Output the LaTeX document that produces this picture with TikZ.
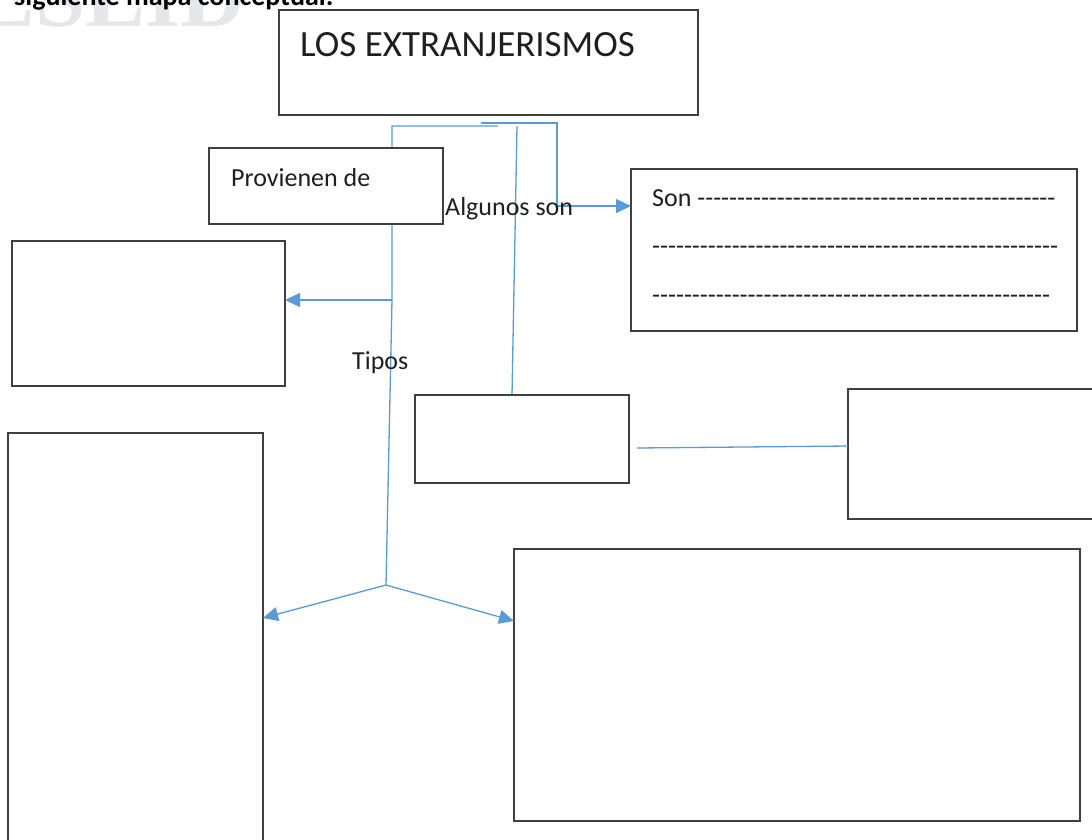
\documentclass[tikz,border=0pt]{standalone}
\usepackage{fontspec}
\newfontfamily\calfont{Carlito}
\newfontfamily\wmfont{Liberation Serif}
\usetikzlibrary{arrows.meta}
\definecolor{boxc}{HTML}{3F3F3F}
\definecolor{linkc}{HTML}{5B9BD5}
\definecolor{txtc}{HTML}{1F1F1F}
\definecolor{wmc}{HTML}{E6E7E8}
\newcommand\hyphs[1]{\foreach\i in {1,...,#1}{-}}
\begin{document}
\begin{tikzpicture}[x=1pt,y=-1pt,
  box/.style={draw=boxc, line width=1.3pt, fill=white, inner sep=0pt, outer sep=0pt, anchor=north west},
  conn/.style={draw=linkc, line width=1.3pt},
  arr/.style={conn, -{Triangle[length=15pt,width=14pt]}},
  lbl/.style={font=\calfont\fontsize{26}{30}\selectfont, text=txtc, inner sep=0pt, anchor=base west}]
\useasboundingbox (0,0) rectangle (1092,839);
\clip (0,0) rectangle (1092,839);
\fill[white] (0,0) rectangle (1092,839);
% watermark and cut header
\node[font=\wmfont\bfseries\fontsize{90}{90}\selectfont, text=wmc, inner sep=0pt, anchor=base west] (wm) at (-25,26) {ESLID};
\node[font=\calfont\bfseries\fontsize{28}{30}\selectfont, text=black, inner sep=0pt, anchor=base west] (hdr) at (14,5) {siguiente mapa conceptual:};
% connector points
\coordinate (a1) at (498,126);
\coordinate (a2) at (392,126);
\coordinate (a3) at (392,300);
\coordinate (a4) at (386,585);
\coordinate (a5) at (0,618);
\coordinate (a6) at (0,621);
\coordinate (b1) at (481,123);
\coordinate (b2) at (557,123);
\coordinate (b3) at (557,206);
\coordinate (c1) at (517,126);
\coordinate (c2) at (512,395);
\coordinate (d1) at (637,448);
\coordinate (d2) at (0,446);
% connectors (drawn under boxes)
\draw[conn] (a1) -- (a2) -- (a3) -- (a4);
\draw[conn] (b1) -- (b2) -- (b3);
\draw[conn] (c1) -- (c2);
% boxes
\node[box, minimum width=419pt, minimum height=105pt] (title) at (279,10) {};
\node[box, minimum width=234pt, minimum height=76pt] (prov) at (209,148) {};
\node[box, minimum width=273pt, minimum height=145pt] (left1) at (12,241) {};
\node[box, minimum width=446pt, minimum height=162pt] (son) at (631,169) {};
\node[box, minimum width=214pt, minimum height=88pt] (mid) at (415,395) {};
\node[box, minimum width=260pt, minimum height=130pt] (rbox) at (848,389) {};
\node[box, minimum width=255pt, minimum height=420pt] (tall) at (8,433) {};
\node[box, minimum width=566pt, minimum height=272pt] (big) at (514,549) {};
% arrows
\draw[arr] (a3) -- (a3 -| left1.east);
\draw[arr] (b3) -- (b3 -| son.west);
\draw[arr] (a4) -- (a5 -| tall.east);
\draw[arr] (a4) -- (a6 -| big.west);
\draw[conn] (d1) -- (d2 -| rbox.west);
% texts
\node[lbl, font=\calfont\fontsize{37}{40}\selectfont] (t0) at (300,56) {LOS EXTRANJERISMOS};
\node[lbl] (t1) at (231,186) {Provienen de};
\node[lbl] (t2) at (445,215) {Algunos son};
\node[lbl] (t3) at (352,369) {Tipos};
\node[lbl] (s1) at (652,206) {Son \hyphs{45}};
\node[lbl] (s2) at (652,254) {\hyphs{51}};
\node[lbl] (s3) at (652,303) {\hyphs{50}};
\end{tikzpicture}
\end{document}
